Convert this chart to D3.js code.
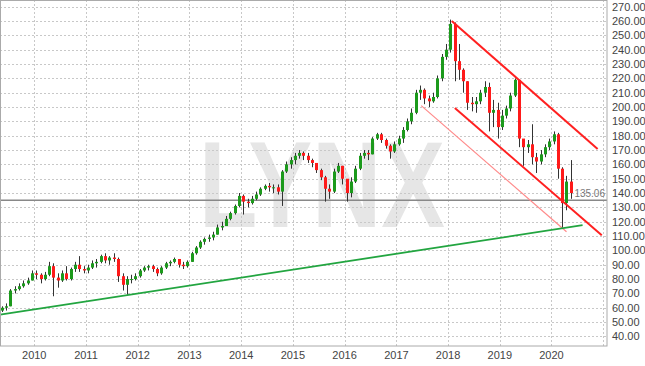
<!DOCTYPE html>
<html>
<head>
<meta charset="utf-8">
<script src="https://cdnjs.cloudflare.com/ajax/libs/d3/7.8.5/d3.min.js"></script>
<style>
  body { margin: 0; background: #fff; }
  svg { display: block; font-family: Arial, "Liberation Sans", sans-serif; }
</style>
</head>
<body>
<div id="chart"></div>
<script>

// monthly candles, first one is May 2009
var firstMonth = new Date(2009, 4, 1)
var firstOpen = 58

var closes = [
  60, 61, 72, 73, 75, 77, 79, 84,                              // 2009
  83, 80, 83, 89, 81, 79, 84, 80, 87, 90, 87, 86,              // 2010
  88, 91, 92, 96, 93, 95, 94, 82, 76, 80, 80, 82,              // 2011
  86, 88, 89, 87, 84, 88, 91, 92, 94, 90, 89, 92,              // 2012
  98, 102, 106, 108, 109, 111, 116, 117, 122, 126, 131, 138,   // 2013
  134, 133, 136, 139, 143, 145, 144, 144, 141, 155, 160, 163,  // 2014
  166, 168, 166, 163, 161, 156, 151, 143, 141, 155, 159, 150,  // 2015
  140, 148, 157, 166, 168, 167, 178, 181, 177, 173, 169, 174,  // 2016
  178, 184, 190, 196, 210, 212, 206, 204, 207, 220, 235, 240,  // 2017
  258, 232, 226, 218, 203, 202, 204, 210, 214, 196, 198, 186,  // 2018
  194, 199, 208, 219, 178, 172, 174, 165, 162, 167, 172, 176,  // 2019
  181, 157, 133, 148, 140                                      // 2020
]

var highs = [
  61, 63, 73, 75, 77, 79, 81, 86,
  86, 84, 85, 92, 91, 84, 86, 89, 88, 92, 96, 89,
  90, 93, 94, 97, 98, 96, 98, 95, 84, 82, 83, 84,
  87, 89, 90, 90, 88, 89, 92, 93, 95, 94, 92, 93,
  99, 103, 107, 109, 111, 113, 118, 120, 124, 127, 132, 140,
  139, 136, 138, 141, 144, 146, 147, 146, 146, 156, 162, 165,
  168, 170, 169, 168, 164, 160, 157, 152, 146, 157, 161, 159,
  149, 151, 159, 168, 170, 170, 179, 182, 182, 178, 174, 176,
  180, 186, 192, 199, 212, 215, 213, 208, 210, 222, 237, 244,
  261, 259, 244, 227, 218, 207, 207, 212, 218, 217, 205, 203,
  198, 201, 210, 220, 219, 176, 177, 188, 168, 170, 174, 178,
  183, 182, 158, 152, 163
]

var lows = [
  57, 58, 61, 70, 72, 74, 76, 79,
  80, 77, 79, 82, 68, 74, 78, 79, 79, 85, 85, 84,
  84, 87, 88, 91, 91, 90, 92, 78, 72, 69, 77, 79,
  81, 85, 86, 85, 82, 83, 87, 89, 91, 88, 87, 88,
  92, 97, 101, 104, 106, 107, 111, 114, 117, 121, 125, 130,
  125, 130, 132, 135, 138, 142, 141, 140, 139, 131, 154, 157,
  160, 164, 163, 161, 158, 154, 149, 134, 136, 140, 154, 146,
  134, 137, 147, 156, 164, 163, 167, 177, 175, 171, 164, 168,
  173, 175, 183, 188, 195, 205, 202, 200, 203, 206, 218, 233,
  238, 218, 219, 210, 198, 197, 196, 202, 207, 183, 186, 178,
  184, 192, 197, 207, 172, 159, 168, 160, 154, 160, 165, 170,
  174, 150, 115, 128, 136
]

// tick labels
var yearTicks = [2010, 2011, 2012, 2013, 2014, 2015, 2016, 2017, 2018, 2019, 2020, 2021]
var priceTicks = [40, 50, 60, 70, 80, 90, 100, 110, 120, 130, 140, 150, 160, 170, 180, 190, 200,
                  210, 220, 230, 240, 250, 260, 270]

// drawn trend lines: [year fraction, price]
var supportLine = [[2009.34, 55.2], [2020.6, 117.6]]
var channelTop = [[2018.07, 260], [2020.89, 170.8]]
var channelBottom = [[2018.13, 199.4], [2020.97, 110.6]]
var channelThin = [[2017.48, 201], [2020.29, 113]]
var lastPrice = 135.06

var width = 645, height = 366
var plotRight = 607, plotBottom = 346

function yearDate(f) {
  var y = Math.floor(f)
  var start = new Date(y, 0, 1), end = new Date(y + 1, 0, 1)
  return new Date(+start + (f - y) * (end - start))
}

var svg = d3.select("#chart").append("svg")
            .attr("width", width)
            .attr("height", height)

var x = d3.scaleTime()
          .domain([new Date(2009, 4, 4), new Date(2021, 0, 27)])
          .range([0, plotRight])

var y = d3.scaleLinear()
          .domain([40, 270])
          .range([336.4, 6.7])

// LYNX watermark behind everything
svg.append("text")
   .attr("x", 199)
   .attr("y", 227)
   .attr("textLength", 246)
   .attr("lengthAdjust", "spacingAndGlyphs")
   .style("font-size", "123px")
   .style("font-weight", "bold")
   .style("fill", "#e6e6e6")
   .text("LYNX")

// dashed grid
svg.append("g").selectAll("line")
   .data(priceTicks)
   .enter().append("line")
   .attr("x1", 0).attr("x2", plotRight)
   .attr("y1", function (d) { return Math.round(y(d)) + 0.5 })
   .attr("y2", function (d) { return Math.round(y(d)) + 0.5 })
   .style("stroke", "#c8c8c8")
   .style("stroke-dasharray", "2,2")

svg.append("g").selectAll("line")
   .data(yearTicks)
   .enter().append("line")
   .attr("x1", function (d) { return Math.round(x(new Date(d, 0, 1))) + 0.5 })
   .attr("x2", function (d) { return Math.round(x(new Date(d, 0, 1))) + 0.5 })
   .attr("y1", 0).attr("y2", plotBottom)
   .style("stroke", "#c8c8c8")
   .style("stroke-dasharray", "2,2")

// last price line
svg.append("line")
   .attr("x1", 0).attr("x2", plotRight)
   .attr("y1", y(lastPrice)).attr("y2", y(lastPrice))
   .style("stroke", "#888")
   .style("stroke-width", 1.5)

svg.append("text")
   .attr("x", 605)
   .attr("y", y(lastPrice) - 3)
   .attr("text-anchor", "end")
   .style("font-size", "10px")
   .style("fill", "#777")
   .text(lastPrice.toFixed(2))

// candles
var candles = closes.map(function (c, i) {
  return {
    date: d3.timeMonth.offset(firstMonth, i),
    open: i === 0 ? firstOpen : closes[i - 1],
    close: c,
    high: highs[i],
    low: lows[i]
  }
})

var barW = 3

var candleG = svg.append("g").selectAll("g")
                 .data(candles)
                 .enter().append("g")
                 .attr("transform", function (d) {
                   var mid = new Date(+d.date + 15 * 864e5)
                   return "translate(" + Math.round(x(mid)) + ",0)"
                 })

candleG.append("line")
       .attr("x1", 0.5).attr("x2", 0.5)
       .attr("y1", function (d) { return y(d.high) })
       .attr("y2", function (d) { return y(d.low) })
       .style("stroke", "#333")

candleG.append("rect")
       .attr("x", -1)
       .attr("width", barW)
       .attr("y", function (d) { return y(Math.max(d.open, d.close)) })
       .attr("height", function (d) { return Math.max(1, Math.abs(y(d.open) - y(d.close))) })
       .style("fill", function (d) { return d.close >= d.open ? "#1c9a1c" : "#ff1a1a" })

// trend lines
var line = d3.line()
             .x(function (d) { return x(yearDate(d[0])) })
             .y(function (d) { return y(d[1]) })

svg.append("path").attr("d", line(channelThin))
   .style("fill", "none").style("stroke", "#ff8a8a").style("stroke-width", 1.2)

svg.append("path").attr("d", line(supportLine))
   .style("fill", "none").style("stroke", "#22a540").style("stroke-width", 1.8)

svg.append("path").attr("d", line(channelTop))
   .style("fill", "none").style("stroke", "#ff2020").style("stroke-width", 2)

svg.append("path").attr("d", line(channelBottom))
   .style("fill", "none").style("stroke", "#ff2020").style("stroke-width", 2)

// frame
svg.append("rect")
   .attr("x", 0.5).attr("y", 0.5)
   .attr("width", plotRight - 0.5).attr("height", plotBottom - 0.5)
   .style("fill", "none")
   .style("stroke", "#aaa")

// price labels on the right
svg.append("g").selectAll("text")
   .data(priceTicks)
   .enter().append("text")
   .attr("x", 612)
   .attr("y", function (d) { return y(d) + 4 })
   .style("font-size", "11px")
   .style("fill", "#444")
   .text(function (d) { return d.toFixed(2) })

// year labels
svg.append("g").selectAll("text")
   .data(yearTicks.slice(0, -1))
   .enter().append("text")
   .attr("x", function (d) { return x(new Date(d, 0, 1)) })
   .attr("y", 359)
   .attr("text-anchor", "middle")
   .style("font-size", "11px")
   .style("fill", "#444")
   .text(function (d) { return d })

</script>
</body>
</html>
